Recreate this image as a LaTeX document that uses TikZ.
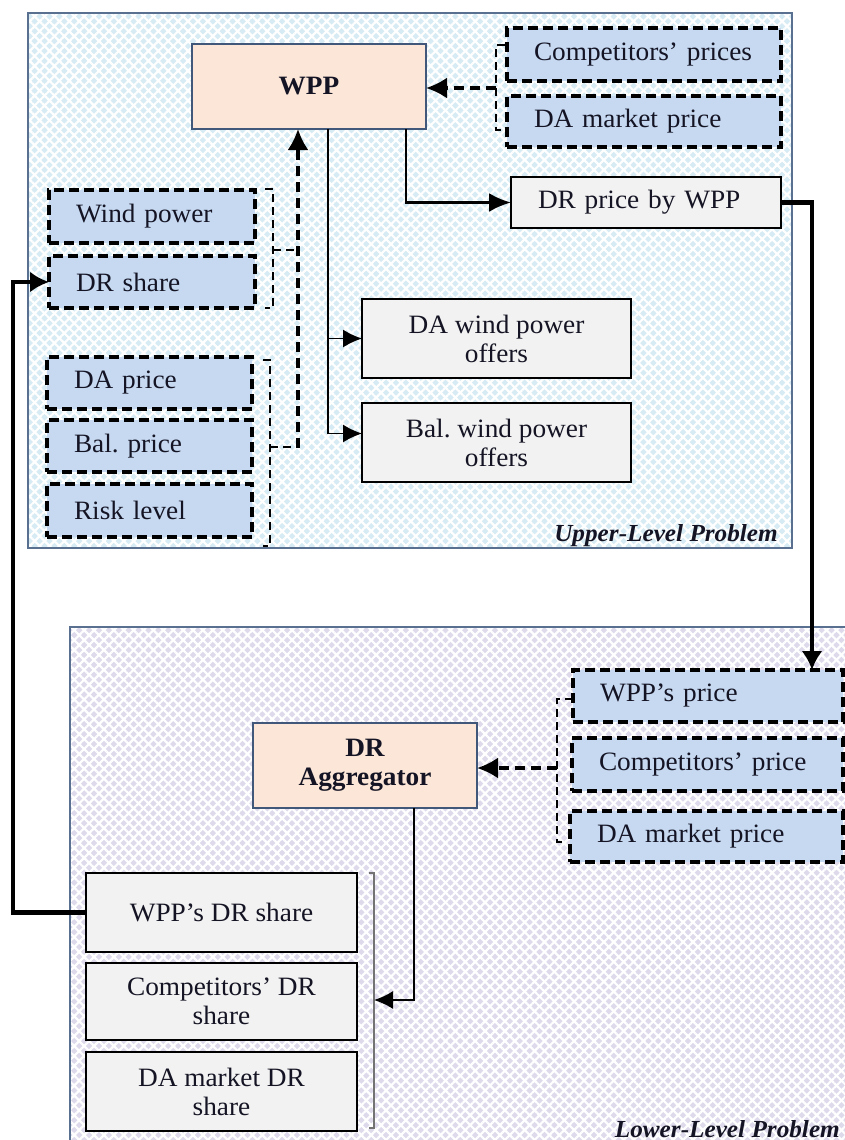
\documentclass[tikz,border=0pt]{standalone}
\usepackage{fontspec}
\setmainfont{Liberation Serif}[FakeStretch=1.03]
\usetikzlibrary{arrows.meta,calc,patterns.meta}
\definecolor{ink}{HTML}{141424}
\definecolor{peach}{HTML}{FBE6D8}
\definecolor{inblue}{HTML}{C6D9F1}
\definecolor{outgray}{HTML}{F2F2F2}
\definecolor{edgeblue}{HTML}{41587A}
\definecolor{panelline}{HTML}{5A7090}
\definecolor{upbg}{HTML}{D6EBF3}
\definecolor{lowbg}{HTML}{DEDAEC}
\begin{document}
\begin{tikzpicture}[x=1pt,y=-1pt,
  txt/.style={font=\fontsize{26.5}{29}\selectfont, text=ink},
  box/.style={txt, inner ysep=0pt, outer sep=0pt},
  inbox/.style={box, draw=black, fill=inblue, line width=3.4pt,
    dash pattern=on 10pt off 5pt, inner xsep=27pt, align=left},
  outbox/.style={box, draw=black, fill=outgray, line width=1.8pt, align=center},
  outleft/.style={box, draw=black, fill=outgray, line width=1.8pt,
    inner xsep=27pt, align=left},
  agent/.style={box, draw=edgeblue, fill=peach, line width=1.6pt,
    align=center, font=\fontsize{26.5}{29}\selectfont\bfseries},
  brk/.style={line width=2.7pt, dash pattern=on 8pt off 5pt},
  dasharr/.style={line width=3.2pt, dash pattern=on 10pt off 6pt,
    -{Latex[length=21pt,width=21pt]}},
  thinarr/.style={line width=1.6pt, -{Latex[length=19pt,width=18pt]}},
  midarr/.style={line width=2.8pt, -{Latex[length=22pt,width=19pt]}},
  bigarr/.style={line width=4.4pt, -{Latex[length=19pt,width=21pt]}},
  lbl/.style={font=\fontsize{24.5}{29}\selectfont\bfseries\itshape, text=ink,
    inner sep=0pt},
  grid/.style={pattern={Lines[angle=#1,distance=7pt,line width=2.2pt]},
    pattern color=white}
]
\useasboundingbox (0,0) rectangle (845,1140);

% ---------- panels ----------
\fill[upbg] (28,13) rectangle (792,548);
\fill[grid=45] (28,13) rectangle (792,548);
\fill[grid=-45] (28,13) rectangle (792,548);
\draw[panelline, line width=1.3pt] (28,13) rectangle (792,548);

\fill[lowbg] (70,627) rectangle (850,1145);
\fill[grid=45] (70,627) rectangle (850,1145);
\fill[grid=-45] (70,627) rectangle (850,1145);
\draw[panelline, line width=1.3pt] (70,1145) -- (70,627) -- (850,627);

% ---------- upper level ----------
\node[agent, minimum width=234pt, minimum height=85pt] (wpp) at (309,86.5) {WPP};

\node[inbox, minimum height=53pt, text width=220pt] (cp) at (644,54.5) {Competitors' prices};
\node[inbox, minimum height=51pt, text width=220pt] (dam) at (644,121.5) {DA market price};

\node[outleft, minimum height=51pt, text width=216pt] (drp) at (646,202.5) {DR price by WPP};

\node[inbox, minimum height=53pt, text width=152pt] (wind) at (152,216.5) {Wind power};
\node[inbox, minimum height=52pt, text width=152pt] (drs) at (152,282) {DR share};

\node[inbox, minimum height=52pt, text width=151pt] (dap) at (149.5,383) {DA price};
\node[inbox, minimum height=52pt, text width=151pt] (balp) at (149.5,446) {Bal.\ price};
\node[inbox, minimum height=53pt, text width=151pt] (risk) at (149.5,510.5) {Risk level};

\node[outbox, minimum width=269pt, minimum height=79pt] (daw) at (496.5,338.5) {DA wind power\\offers};
\node[outbox, minimum width=269pt, minimum height=79pt] (balw) at (496.5,442.5) {Bal.\ wind power\\offers};

% input brackets of the upper level
\draw[brk] (505,45) -- (496,45) -- (496,130) -- (505,130);
\coordinate (cpj) at (496,88);
\draw[dasharr] (cpj) -- (cpj -| wpp.east);

\draw[brk] (265,189) -- (273,189) -- (273,308) -- (265,308);
\draw[brk] (273,250) -- (298,250);
\draw[brk] (263,360) -- (270,360) -- (270,546) -- (263,546);
\draw[brk] (270,447) -- (298,447);
\coordinate (upj) at (298,448);
\draw[dasharr] (upj) -- (upj |- wpp.south);

% outputs of the WPP
\draw[midarr] ($(wpp.south)+(97,0)$) |- (drp.west);
\draw[thinarr] ($(wpp.south)+(19,0)$) |- (daw.west);
\draw[thinarr] ($(wpp.south)+(19,0)$) |- ([yshift=9pt]balw.west);

\node[lbl, anchor=base east] (ulp) at (778,541) {Upper-Level Problem};

% ---------- lower level ----------
\node[agent, minimum width=224pt, minimum height=85pt] (agg) at (365,765.5) {DR\\Aggregator};

\node[inbox, minimum height=52pt, text width=216pt] (wppp) at (708,696) {WPP's price};
\node[inbox, minimum height=53pt, text width=217pt] (compp) at (707.5,764.5) {Competitors' price};
\node[inbox, minimum height=51pt, text width=219pt] (damp) at (706.5,836.5) {DA market price};

\node[outbox, minimum width=271pt, minimum height=79pt] (wds) at (221.5,912.5) {WPP's DR share};
\node[outbox, minimum width=271pt, minimum height=77pt] (cds) at (221.5,1001.5) {Competitors' DR\\share};
\node[outbox, minimum width=271pt, minimum height=79pt] (dds) at (221.5,1091.5) {DA market DR\\share};

\draw[brk] (573,699) -- (557,699) -- (557,842) -- (566,842);
\coordinate (lpj) at (557,768);
\draw[dasharr] (lpj) -- (lpj -| agg.east);

\draw[line width=1.3pt, black!55] (369,873) -- (374,873) -- (374,1128) -- (369,1128);
\coordinate (lbj) at (374,1000);
\draw[thinarr] ($(agg.south)+(49,0)$) |- (lbj);

\node[lbl, anchor=base east] (llp) at (840,1137) {Lower-Level Problem};

% ---------- links between the levels ----------
\draw[bigarr] (drp.east) -| ([xshift=104pt]wppp.north);
\draw[bigarr] (wds.west) -- ++(-73,0) |- (drs.west);
\end{tikzpicture}
\end{document}
